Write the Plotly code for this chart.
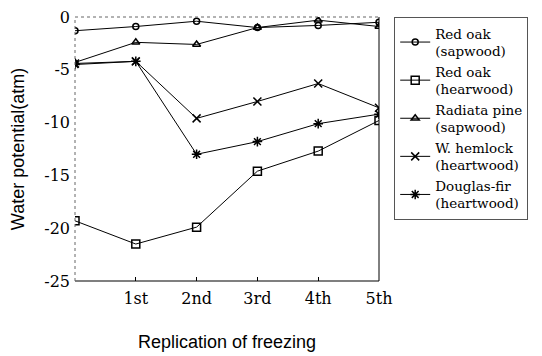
import plotly.graph_objects as go

x_pos = [0, 1, 2, 3, 4, 5]
tick_labels = ["", "1st", "2nd", "3rd", "4th", "5th"]
y_ticks = [0, -5, -10, -15, -20, -25]
y_tick_labels = ["0", "-5", "-10", "-15", "-20", "-25"]

red_oak_sap = [-1.3, -0.9, -0.4, -1.0, -0.8, -0.5]
red_oak_heart = [-19.3, -21.5, -19.9, -14.6, -12.7, -9.8]
radiata_sap = [-4.3, -2.4, -2.6, -1.0, -0.3, -0.9]
hemlock_heart = [-4.4, -4.2, -9.6, -8.0, -6.3, -8.6]
douglas_heart = [-4.5, -4.2, -13.0, -11.8, -10.1, -9.2]

names = ["Red oak<br>(sapwood)", "Red oak<br>(hearwood)", "Radiata pine<br>(sapwood)",
         "W. hemlock<br>(heartwood)", "Douglas-fir<br>(heartwood)"]
series = [red_oak_sap, red_oak_heart, radiata_sap, hemlock_heart, douglas_heart]
symbols = ["circle-open", "square-open", "triangle-up-open", "x-thin-open", "asterisk-open"]
sizes = [6, 8, 7, 8, 8]

serif = "DejaVu Serif"
sans = "Liberation Sans"

fig = go.Figure()
for n, s, sym, sz in zip(names, series, symbols, sizes):
    fig.add_trace(go.Scatter(
        x=x_pos, y=s, name=n, mode="lines+markers",
        line=dict(color="black", width=1),
        marker=dict(symbol=sym, size=sz, color="black", line=dict(color="black", width=1.5)),
    ))

fig.update_layout(
    width=534, height=348,
    margin=dict(l=67, r=163, t=9, b=75, autoexpand=False),
    paper_bgcolor="white", plot_bgcolor="white",
    font=dict(family=serif, size=14, color="black"),
    showlegend=True,
    legend=dict(
        x=1.05, y=1.0, xanchor="left", yanchor="top",
        font=dict(family=serif, size=13.5, color="black"),
        bordercolor="#555", borderwidth=1,
        itemwidth=30,
    ),
    xaxis=dict(
        range=[0, 5], tickvals=x_pos, ticktext=tick_labels,
        showgrid=False, zeroline=False, showline=False,
        ticks="inside", ticklen=4, tickcolor="black", ticklabelstandoff=6,
        tickfont=dict(family=serif, size=16, color="black"),
        title=dict(text="Replication of freezing", font=dict(family=sans, size=18, color="black"), standoff=28),
    ),
    yaxis=dict(
        range=[-25, 0], tickvals=y_ticks, ticktext=y_tick_labels,
        showgrid=False, zeroline=False, showline=False,
        ticks="", ticklabelstandoff=4, ticklabeloverflow="allow",
        tickfont=dict(family=serif, size=16, color="black"),
        title=dict(text="Water potential(atm)", font=dict(family=sans, size=18, color="black"), standoff=14),
    ),
    shapes=[
        dict(type="line", xref="paper", yref="paper", x0=0, x1=1, y0=0, y1=0, line=dict(color="black", width=1.2)),
        dict(type="line", xref="paper", yref="paper", x0=1, x1=1, y0=0, y1=1, line=dict(color="black", width=1)),
        dict(type="line", xref="paper", yref="paper", x0=0, x1=1, y0=1, y1=1, line=dict(color="#666", width=1, dash="dot")),
        dict(type="line", xref="paper", yref="paper", x0=0, x1=0, y0=0, y1=1, line=dict(color="#666", width=1, dash="dot")),
    ],
)

fig.write_html("out.html")
